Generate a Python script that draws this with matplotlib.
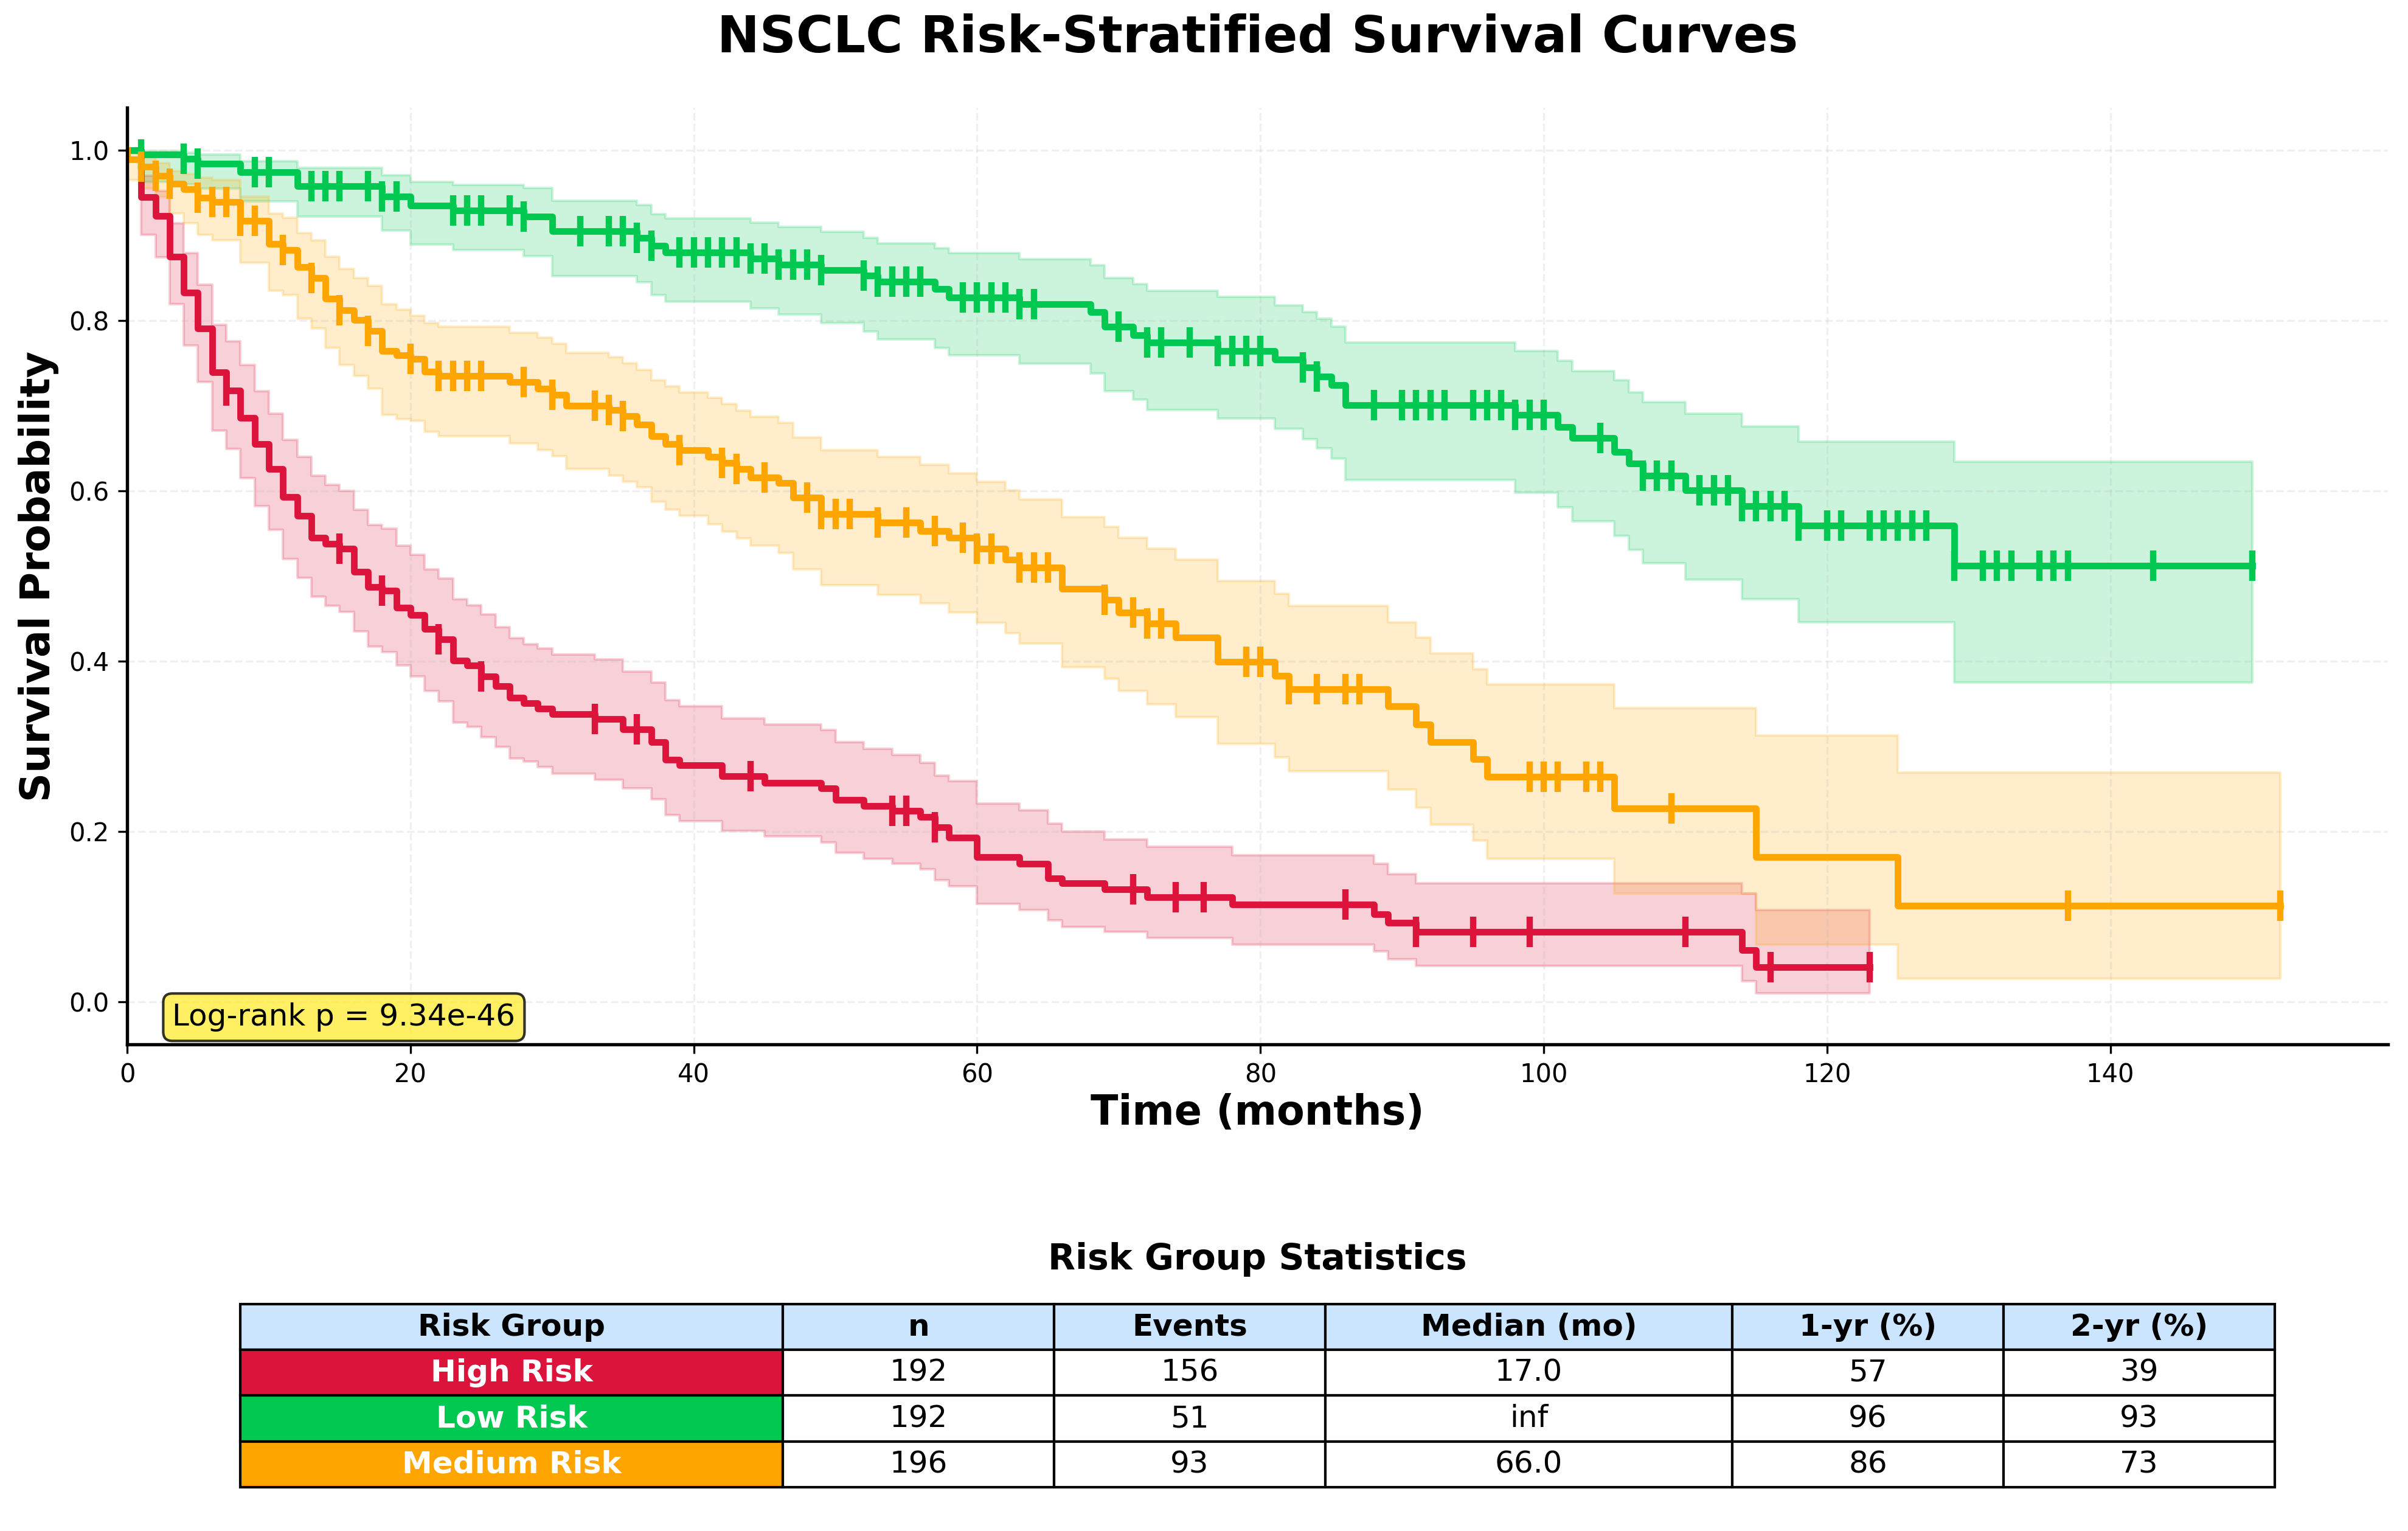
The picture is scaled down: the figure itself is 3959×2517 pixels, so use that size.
import numpy as np
import matplotlib
matplotlib.use('Agg')
import matplotlib.pyplot as plt

# Kaplan-Meier steps: event times, survival after each
# event, CI bounds after each event, censor times, last follow-up
high_times = [1, 2, 3, 4, 5, 6, 7, 8, 9, 10, 11, 12, 13, 14, 15, 16, 17, 18, 19, 20,
              21, 22, 23, 24, 25, 26, 27, 28, 29, 30, 33, 35, 37, 38, 39, 42, 45, 49, 50, 52,
              54, 56, 57, 58, 60, 63, 65, 66, 69, 72, 78, 88, 89, 91, 114, 115]
high_surv = [0.945, 0.923, 0.875, 0.833, 0.791, 0.739, 0.718, 0.686, 0.655, 0.626,
             0.593, 0.571, 0.545, 0.538, 0.532, 0.505, 0.487, 0.483, 0.463, 0.454,
             0.438, 0.426, 0.401, 0.395, 0.382, 0.371, 0.357, 0.351, 0.344, 0.338,
             0.332, 0.320, 0.305, 0.284, 0.278, 0.265, 0.257, 0.251, 0.237, 0.230,
             0.224, 0.217, 0.205, 0.193, 0.170, 0.162, 0.145, 0.139, 0.132, 0.123,
             0.114, 0.103, 0.093, 0.082, 0.061, 0.041]
high_upper = [0.970, 0.952, 0.914, 0.879, 0.842, 0.795, 0.776, 0.748, 0.717, 0.691,
              0.660, 0.640, 0.618, 0.607, 0.600, 0.578, 0.560, 0.556, 0.536, 0.525,
              0.508, 0.497, 0.473, 0.466, 0.455, 0.440, 0.427, 0.420, 0.415, 0.408,
              0.402, 0.388, 0.375, 0.354, 0.347, 0.333, 0.326, 0.319, 0.305, 0.297,
              0.290, 0.281, 0.266, 0.259, 0.233, 0.225, 0.209, 0.200, 0.191, 0.182,
              0.172, 0.162, 0.150, 0.139, 0.127, 0.108]
high_lower = [0.901, 0.874, 0.819, 0.771, 0.728, 0.671, 0.649, 0.615, 0.582, 0.554,
              0.520, 0.498, 0.476, 0.465, 0.458, 0.435, 0.417, 0.411, 0.395, 0.382,
              0.365, 0.353, 0.328, 0.323, 0.311, 0.299, 0.286, 0.282, 0.276, 0.268,
              0.261, 0.251, 0.238, 0.219, 0.212, 0.201, 0.194, 0.187, 0.175, 0.168,
              0.162, 0.156, 0.143, 0.136, 0.115, 0.108, 0.096, 0.088, 0.082, 0.075,
              0.067, 0.059, 0.050, 0.042, 0.024, 0.010]
high_censor = [7, 15, 18, 22, 25, 33, 36, 44, 54, 55, 57, 71, 74, 76, 86, 91, 95, 99,
               110, 116, 123]
high_end = 123

low_times = [1, 4, 5, 8, 12, 18, 20, 23, 28, 30, 36, 37, 38, 44, 46, 49, 52, 53, 57, 58,
             63, 68, 69, 71, 72, 77, 81, 83, 84, 85, 86, 98, 101, 102, 105, 106, 107, 110,
             114, 118, 129]
low_surv = [0.995, 0.990, 0.984, 0.974, 0.958, 0.946, 0.935, 0.929, 0.922, 0.905,
            0.897, 0.888, 0.880, 0.873, 0.866, 0.859, 0.853, 0.846, 0.837, 0.827,
            0.819, 0.810, 0.793, 0.783, 0.774, 0.764, 0.754, 0.745, 0.734, 0.724,
            0.701, 0.689, 0.675, 0.662, 0.646, 0.632, 0.618, 0.601, 0.582, 0.559, 0.512]
low_upper = [0.999, 0.997, 0.995, 0.987, 0.979, 0.971, 0.963, 0.959, 0.956, 0.941,
             0.936, 0.925, 0.920, 0.915, 0.910, 0.904, 0.897, 0.891, 0.885, 0.879,
             0.872, 0.865, 0.850, 0.843, 0.835, 0.828, 0.818, 0.810, 0.802, 0.793,
             0.774, 0.764, 0.753, 0.741, 0.730, 0.716, 0.704, 0.691, 0.676, 0.658, 0.634]
low_lower = [0.963, 0.960, 0.955, 0.940, 0.922, 0.906, 0.889, 0.883, 0.876, 0.852,
             0.845, 0.830, 0.822, 0.814, 0.807, 0.797, 0.787, 0.778, 0.768, 0.759,
             0.749, 0.738, 0.717, 0.707, 0.695, 0.685, 0.673, 0.661, 0.650, 0.638,
             0.613, 0.598, 0.581, 0.564, 0.547, 0.531, 0.515, 0.496, 0.473, 0.446, 0.375]
low_censor = [1, 4, 5, 9, 10, 13, 14, 15, 17, 18, 19, 23, 24, 25, 27, 28, 32, 34, 35, 36,
              37, 39, 40, 41, 42, 43, 44, 45, 46, 47, 48, 49, 52, 53, 54, 55, 56, 59, 60,
              61, 62, 63, 64, 70, 72, 73, 75, 77, 78, 79, 80, 83, 84, 88, 90, 91, 92, 93,
              95, 96, 97, 98, 99, 100, 104, 107, 108, 109, 111, 112, 113, 114, 115, 116,
              117, 118, 120, 121, 123, 124, 125, 126, 127, 129, 131, 132, 133, 135, 136,
              137, 143, 150]
low_end = 150

med_times = [0, 1, 2, 3, 4, 5, 6, 8, 10, 11, 12, 13, 14, 15, 16, 17, 18, 19, 20, 21,
             22, 27, 29, 30, 31, 34, 35, 36, 37, 38, 39, 41, 42, 43, 44, 46, 47, 49, 53, 56,
             58, 60, 62, 63, 66, 69, 70, 72, 74, 77, 81, 82, 89, 91, 92, 95, 96, 105, 115, 125]
med_surv = [0.989, 0.981, 0.970, 0.961, 0.954, 0.944, 0.939, 0.917, 0.890, 0.883,
            0.863, 0.850, 0.826, 0.812, 0.801, 0.788, 0.764, 0.759, 0.755, 0.740,
            0.735, 0.728, 0.720, 0.713, 0.700, 0.695, 0.688, 0.678, 0.664, 0.655,
            0.648, 0.640, 0.633, 0.626, 0.616, 0.609, 0.592, 0.573, 0.563, 0.553,
            0.545, 0.532, 0.519, 0.510, 0.485, 0.472, 0.457, 0.444, 0.428, 0.399,
            0.383, 0.367, 0.347, 0.326, 0.305, 0.285, 0.264, 0.227, 0.170, 0.113]
med_upper = [0.996, 0.992, 0.985, 0.976, 0.972, 0.968, 0.965, 0.946, 0.926, 0.921,
             0.903, 0.894, 0.875, 0.861, 0.850, 0.841, 0.819, 0.813, 0.806, 0.797,
             0.793, 0.786, 0.780, 0.773, 0.762, 0.757, 0.750, 0.742, 0.730, 0.723,
             0.716, 0.709, 0.702, 0.694, 0.687, 0.680, 0.663, 0.648, 0.640, 0.631,
             0.621, 0.611, 0.601, 0.590, 0.569, 0.558, 0.545, 0.532, 0.519, 0.494,
             0.479, 0.465, 0.446, 0.428, 0.409, 0.391, 0.373, 0.345, 0.313, 0.269]
med_lower = [0.965, 0.955, 0.945, 0.926, 0.914, 0.901, 0.894, 0.868, 0.835, 0.830,
             0.802, 0.791, 0.768, 0.748, 0.735, 0.720, 0.689, 0.684, 0.682, 0.669,
             0.664, 0.656, 0.648, 0.641, 0.626, 0.618, 0.611, 0.604, 0.587, 0.578,
             0.571, 0.561, 0.552, 0.544, 0.536, 0.527, 0.508, 0.489, 0.478, 0.468,
             0.457, 0.445, 0.433, 0.421, 0.393, 0.379, 0.365, 0.349, 0.334, 0.303,
             0.287, 0.271, 0.249, 0.228, 0.208, 0.189, 0.168, 0.127, 0.067, 0.027]
med_censor = [1, 2, 3, 5, 6, 7, 8, 9, 11, 13, 15, 17, 20, 22, 23, 24, 25, 28, 30, 33,
              34, 35, 39, 42, 43, 45, 48, 49, 50, 51, 53, 55, 57, 59, 60, 61, 63, 64, 65,
              69, 71, 72, 73, 79, 80, 82, 84, 86, 87, 99, 100, 101, 103, 104, 109, 137, 152]
med_end = 152

p_value_text = 'Log-rank p = 9.34e-46'

table_cols = ['Risk Group', 'n', 'Events', 'Median (mo)', '1-yr (%)', '2-yr (%)']
table_groups = ['High Risk', 'Low Risk', 'Medium Risk']
table_n = ['192', '192', '196']
table_events = ['156', '51', '93']
table_median = ['17.0', 'inf', '66.0']
table_1yr = ['57', '96', '86']
table_2yr = ['39', '93', '73']

colors = {'High Risk': '#DC143C', 'Low Risk': '#00C851', 'Medium Risk': '#FFA500'}

groups = [
    ('High Risk', high_times, high_surv, high_lower, high_upper, high_censor, high_end),
    ('Low Risk', low_times, low_surv, low_lower, low_upper, low_censor, low_end),
    ('Medium Risk', med_times, med_surv, med_lower, med_upper, med_censor, med_end),
]

fig = plt.figure(figsize=(3959 / 300, 2517 / 300), dpi=300)
ax = fig.add_axes([0.0528, 0.3178, 0.9389, 0.6119])

for name, times, surv, lower, upper, censor, t_end in groups:
    c = colors[name]
    x = np.r_[0, times, t_end]
    y = np.r_[1.0, surv, surv[-1]]
    lo = np.r_[1.0, lower, lower[-1]]
    hi = np.r_[1.0, upper, upper[-1]]
    ax.fill_between(x, lo, hi, step='post', color=c, alpha=0.2)
    ax.step(x, y, where='post', color=c, linewidth=2.6, label=name)
    idx = np.searchsorted(times, censor, side='right')
    cy = np.r_[1.0, surv][idx]
    ax.plot(censor, cy, linestyle='none', marker='|', markersize=12,
            markeredgewidth=2.5, color=c)

ax.set_xlim(0, max(high_end, low_end, med_end) * 1.05)
ax.set_ylim(-0.05, 1.05)
ax.set_xlabel('Time (months)', fontsize=16, fontweight='bold', labelpad=2)
ax.set_ylabel('Survival Probability', fontsize=16, fontweight='bold')
ax.tick_params(labelsize=10)
ax.grid(True, alpha=0.18, linestyle='--')
ax.spines['top'].set_visible(False)
ax.spines['right'].set_visible(False)
ax.spines['left'].set_linewidth(1.3)
ax.spines['bottom'].set_linewidth(1.3)

ax.text(0.02, 0.02, p_value_text, transform=ax.transAxes, fontsize=12,
        bbox=dict(boxstyle='round,pad=0.3', facecolor='#FFEB3B', alpha=0.8))

fig.text(0.5222, 0.975, 'NSCLC Risk-Stratified Survival Curves',
         ha='center', va='center', fontsize=20, fontweight='bold')

fig.text(0.5222, 0.1773, 'Risk Group Statistics', ha='center', va='center',
         fontsize=14, fontweight='bold')

ax_t = fig.add_axes([0.0998, 0.0286, 0.8449, 0.1196])
ax_t.axis('off')
cells = [list(r) for r in zip(table_groups, table_n, table_events, table_median,
                              table_1yr, table_2yr)]
tbl = ax_t.table(cellText=cells, colLabels=table_cols, cellLoc='center',
                 colWidths=[0.2, 0.1, 0.1, 0.15, 0.1, 0.1], bbox=[0, 0, 1, 1])
tbl.auto_set_font_size(False)
tbl.set_fontsize(12)
for (r, c), cell in tbl.get_celld().items():
    cell.set_linewidth(1.0)
    if r == 0:
        cell.set_facecolor('#cce5ff')
        cell.get_text().set_fontweight('bold')
    elif c == 0:
        cell.set_facecolor(colors[table_groups[r - 1]])
        cell.get_text().set_color('white')
        cell.get_text().set_fontweight('bold')

fig.savefig('out.png', dpi=300)
